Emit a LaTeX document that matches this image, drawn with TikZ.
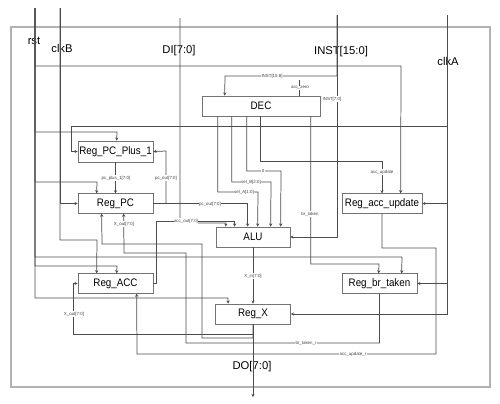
\documentclass[tikz,border=0pt]{standalone}
\usepackage{fontspec}
\setmainfont{Liberation Sans}
\newfontfamily\blkfont[FakeStretch=0.9]{Liberation Sans}
\usetikzlibrary{calc,arrows.meta}

\begin{document}
\begin{tikzpicture}[x=0.02cm, y=-0.02cm,
    wire/.style={draw=black!70, line width=0.42pt},
    pin/.style={wire, -{Stealth[length=1.8pt,width=1.8pt]}},
    blk/.style={draw=black!55, line width=0.4pt, inner sep=0pt, minimum width=1.5cm, minimum height=0.39cm,
      font=\blkfont\fontsize{6.2}{7}\selectfont},
    port/.style={font=\fontsize{6.4}{7}\selectfont, inner sep=0pt},
    tag/.style={font=\fontsize{2.5}{3}\selectfont, fill=white, inner sep=0.3pt, text=black!75}]
  \useasboundingbox (0,0) rectangle (500,403);
  \draw [black!30, line width=0.8pt] (11,27) rectangle (490,387);

  % blocks
  \node [blk, minimum width=2.36cm, minimum height=0.4cm] (dec) at (261,106) {DEC};
  \node [blk, minimum height=0.42cm] (pcp1) at (115.5,151.5) {Reg\_PC\_Plus\_1};
  \node [blk] (pc) at (115.5,203.5) {Reg\_PC};
  \node [blk, minimum width=1.48cm, minimum height=0.4cm] (alu) at (253,237) {ALU};
  \node [blk, minimum width=1.6cm] (accupd) at (382,203.5) {Reg\_acc\_update};
  \node [blk] (acc) at (115.5,283.5) {Reg\_ACC};
  \node [blk] (brt) at (379.5,283.5) {Reg\_br\_taken};
  \node [blk, minimum height=0.4cm] (regx) at (253,314) {Reg\_X};

  % ports
  \coordinate (rst) at (35,8);
  \coordinate (clkB) at (60,8);
  \coordinate (di) at (180,18);
  \coordinate (inst) at (337,15);
  \coordinate (clkA) at (447,15);
  \coordinate (do) at (253,397);
  \node [port] (rstlbl) at (34,41) {rst};
  \node [port] (clkBlbl) at (62,48) {clkB};
  \node [port] (dilbl) at (179,51) {DI[7:0]};
  \node [port] (instlbl) at (341,52) {INST[15:0]};
  \node [port] (clkAlbl) at (448,61) {clkA};
  \node [port] (dolbl) at (252,367) {DO[7:0]};

  % rst
  \draw [pin] (rst) |- (117,132) -- ($(pcp1.north west)+(39,0)$);
  \draw [pin] (rst) |- (97,182) -- ($(pc.north west)+(19,0)$);
  \draw [pin] (rst) |- (117,266) -- ($(acc.north west)+(39,0)$);
  \draw [pin] (rst) |- (228,298) -- ($(regx.north west)+(13,0)$);
  \draw [pin] (rst) |- (401,66) -- ($(accupd.north west)+(59,0)$);
  \draw [pin] (rst) |- (402,257) -- ($(brt.north west)+(60,0)$);

  % clkB
  \draw [pin] (clkB) |- (pc.west);
  \draw [pin] (clkB) |- (97,240) -- ($(acc.north west)+(19,0)$);

  % DI and INST
  \draw [pin] (di) |- (226,223) -- ($(alu.north west)+(10,0)$);
  \draw [pin] (inst) |- (alu.east);
  \draw [pin] (inst) |- (225,76) -- ($(dec.north west)+(23,0)$);

  % clkA
  \draw [pin] (clkA) |- (71,126) |- (pcp1.west);
  \draw [pin] (clkA) |- (accupd.east);
  \draw [pin] (clkA) |- (brt.east);
  \draw [pin] (clkA) |- (regx.east);

  % decoder outputs
  \draw [pin] ($(dec.south west)+(16,0)$) |- (258,192) -- ($(alu.north west)+(42,0)$);
  \draw [pin] ($(dec.south west)+(30,0)$) |- (271,182) -- ($(alu.north west)+(55,0)$);
  \draw [pin] ($(dec.south west)+(45,0)$) |- (281,171) -- ($(alu.north west)+(65,0)$);
  \draw [pin] ($(dec.south west)+(59,0)$) |- (382,161) -- (accupd.north);
  \draw [pin] ($(dec.south west)+(109,0)$) |- (379,264) -- ($(brt.north west)+(37,0)$);
  \draw [wire] ($(dec.north west)+(98,0)$) -- ++(0,-16);

  % register outputs
  \draw [pin] (pcp1.south) -- (pc.north);
  \draw [pin] (pc.east) -| (166,151) -- (pcp1.east);
  \draw [pin] (pc.east) -| ($(alu.north west)+(32,0)$);
  \draw [pin] (acc.east) -| (156,221) -| ($(alu.north west)+(19,0)$);
  \draw [pin] (alu.south) -- (regx.north);
  \draw [pin] (regx.south) -- (do);
  \draw [pin] (regx.south) |- (73,334) |- (acc.west);
  \draw [pin] (regx.south) |- (202,338) |- (102,244) -- ($(pc.south west)+(24,0)$);
  \draw [pin] (accupd.south) |- (436,248) |- (137,354) -- ($(acc.south west)+(59,0)$);
  \draw [pin] (brt.south) |- (186,343) |- (124,253) -- ($(pc.south west)+(46,0)$);

  % net names
  \node [tag] (tInstHi) at (272,76) {INST[15:8]};
  \node [tag] (tZero) at (300,88) {acc\_zero};
  \node [tag] (tInstLo) at (332,99) {INST[7:0]};
  \node [tag] (tConst) at (263,171) {0};
  \node [tag] (tSelB) at (251,182) {sel\_B[2:0]};
  \node [tag] (tSelA) at (244,192) {sel\_A[1:0]};
  \node [tag] (tUpd) at (382,172) {acc\_update};
  \node [tag] (tBr) at (310,214) {br\_taken};
  \node [tag] (tPcp) at (116,178) {pc\_plus\_1[7:0]};
  \node [tag] (tPcA) at (166,178) {pc\_out[7:0]};
  \node [tag] (tPcB) at (210,204) {pc\_out[7:0]};
  \node [tag] (tAcc) at (186,221) {acc\_out[7:0]};
  \node [tag] (tXoutA) at (124,224) {X\_out[7:0]};
  \node [tag] (tXin) at (253,276) {X\_in[7:0]};
  \node [tag] (tXoutB) at (74,314) {X\_out[7:0]};
  \node [tag] (tBrR) at (306,343) {br\_taken\_r};
  \node [tag] (tUpdR) at (353,354) {acc\_update\_r};
\end{tikzpicture}
\end{document}
